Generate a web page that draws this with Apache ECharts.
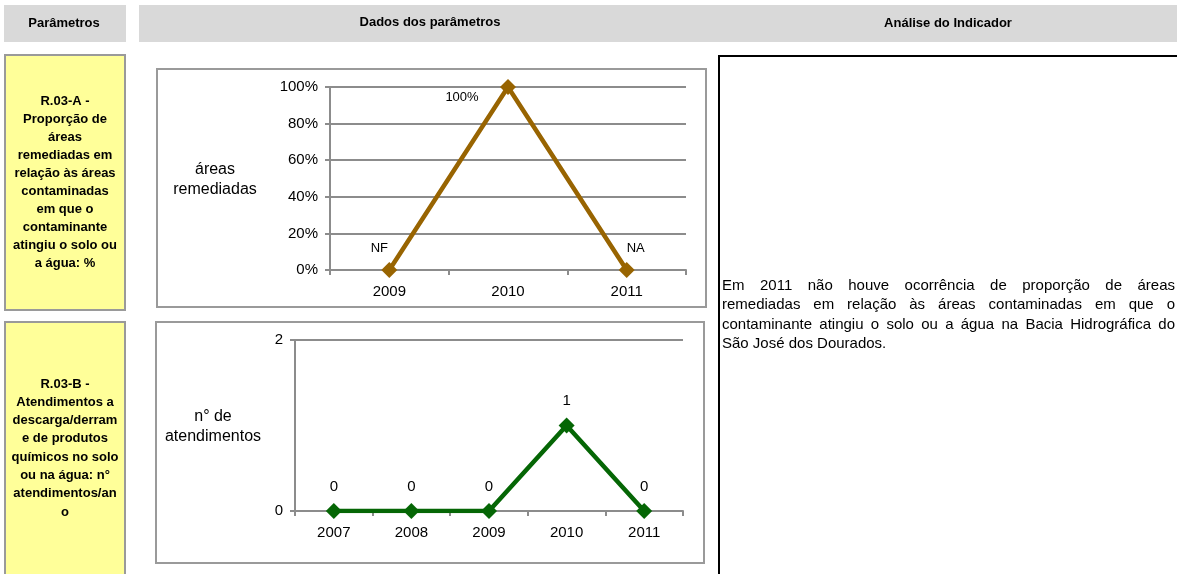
<!DOCTYPE html>
<html>
<head>
<meta charset="utf-8">
<script src="https://cdn.jsdelivr.net/npm/echarts@6/dist/echarts.min.js"></script>
<style>
  html, body { margin: 0; padding: 0; background: #fff; }
  #main { width: 1177px; height: 574px; }
</style>
</head>
<body>
<div id="main"></div>
<script>
// dados - R.03-A (proporção de áreas remediadas)
const yearsA = ['2009', '2010', '2011'];
const valuesA = [0, 1, 0];
const labelsA = ['NF', '100%', 'NA'];
const ticksA = ['0%', '20%', '40%', '60%', '80%', '100%'];

// dados - R.03-B (nº de atendimentos)
const yearsB = ['2007', '2008', '2009', '2010', '2011'];
const valuesB = [0, 0, 0, 1, 0];

const FONT = 'Arial, "Liberation Sans", sans-serif';
const GRID_COLOR = '#8c8c8c';

const linhasAnalise = [
  'Em 2011 não houve ocorrência de proporção de áreas',
  'remediadas em relação às áreas contaminadas em que o',
  'contaminante atingiu o solo ou a água na Bacia Hidrográfica do',
  'São José dos Dourados.',
];

const paramA = 'R.03-A -\nProporção de\náreas\nremediadas em\nrelação às áreas\ncontaminadas\nem que o\ncontaminante\natingiu o solo ou\na água: %';
const paramB = 'R.03-B -\nAtendimentos a\ndescarga/derram\ne de produtos\nquímicos no solo\nou na água: n°\natendimentos/an\no';

const myChart = echarts.init(document.getElementById('main'));

// texto justificado: mede as palavras e distribui o espaço
const ctx = document.createElement('canvas').getContext('2d');
function justify(lines, x0, x1, y0, lineH, font) {
  ctx.font = font;
  const out = [];
  lines.forEach((line, li) => {
    const words = line.split(' ');
    const widths = words.map(w => ctx.measureText(w).width);
    const total = widths.reduce((a, b) => a + b, 0);
    const last = li === lines.length - 1;
    const gap = last ? ctx.measureText(' ').width : (x1 - x0 - total) / (words.length - 1);
    let x = x0;
    words.forEach((w, i) => {
      out.push({
        type: 'text', x, y: y0 + li * lineH,
        style: { text: w, font, fill: '#000', textVerticalAlign: 'middle' },
      });
      x += widths[i] + gap;
    });
  });
  return out;
}

const box = (x, y, w, h, fill, stroke) => ({
  type: 'rect', shape: { x, y, width: w, height: h }, z: -1,
  style: { fill, stroke, lineWidth: stroke ? 2 : 0 },
});
const label = (x, y, text, font, extra) => ({
  type: 'text', x, y,
  style: Object.assign({ text, font, fill: '#000', textAlign: 'center', textVerticalAlign: 'middle' }, extra),
});

const axisLabelStyle = { color: '#000', fontSize: 15, fontFamily: FONT };
const lineAxis = { show: true, lineStyle: { color: GRID_COLOR, width: 2 } };
const tickAxis = { show: true, length: 5, lineStyle: { color: GRID_COLOR, width: 2 } };

const option = {
  animation: false,
  textStyle: { fontFamily: FONT },
  grid: [
    { left: 330, top: 87, width: 356, height: 183 },
    { left: 295, top: 340, width: 388, height: 171 },
  ],
  xAxis: [
    {
      gridIndex: 0, type: 'category', data: yearsA,
      axisLine: lineAxis, axisTick: tickAxis,
      axisLabel: Object.assign({ margin: 14 }, axisLabelStyle),
    },
    {
      gridIndex: 1, type: 'category', data: yearsB,
      axisLine: lineAxis, axisTick: tickAxis,
      axisLabel: Object.assign({ margin: 14 }, axisLabelStyle),
    },
  ],
  yAxis: [
    {
      gridIndex: 0, type: 'value', min: 0, max: 1, interval: 0.2,
      axisLine: lineAxis, axisTick: tickAxis,
      axisLabel: Object.assign({ margin: 12, formatter: (v) => ticksA[Math.round(v * 5)] }, axisLabelStyle),
      splitLine: { lineStyle: { color: GRID_COLOR, width: 2 } },
    },
    {
      gridIndex: 1, type: 'value', min: 0, max: 2, interval: 2,
      axisLine: lineAxis, axisTick: tickAxis,
      axisLabel: Object.assign({ margin: 12 }, axisLabelStyle),
      splitLine: { lineStyle: { color: GRID_COLOR, width: 2 } },
    },
  ],
  series: [
    {
      type: 'line', xAxisIndex: 0, yAxisIndex: 0,
      data: valuesA.map((v, i) => ({
        value: v,
        label: { offset: [[-10, -22], [-46, 10], [9, -22]][i] },
      })),
      symbol: 'diamond', symbolSize: 16,
      lineStyle: { color: '#986401', width: 4.5 },
      itemStyle: { color: '#986401' },
      label: {
        show: true, position: 'inside', color: '#000', fontSize: 13,
        formatter: (p) => labelsA[p.dataIndex],
      },
    },
    {
      type: 'line', xAxisIndex: 1, yAxisIndex: 1,
      data: valuesB,
      symbol: 'diamond', symbolSize: 16,
      lineStyle: { color: '#056605', width: 4.5 },
      itemStyle: { color: '#056605' },
      label: { show: true, position: 'top', distance: 9, color: '#000', fontSize: 15 },
    },
  ],
  graphic: [
    // cabeçalhos
    box(4, 5, 122, 37, '#d9d9d9'),
    box(139, 5, 1040, 37, '#d9d9d9'),
    label(64, 23, 'Parâmetros', 'bold 13px ' + FONT),
    label(430, 22, 'Dados dos parâmetros', 'bold 13px ' + FONT),
    label(948, 23, 'Análise do Indicador', 'bold 13px ' + FONT),
    // parâmetros
    box(5, 55, 120, 255, '#ffff99', '#9a9a9a'),
    box(5, 322, 120, 262, '#ffff99', '#9a9a9a'),
    label(65, 182, paramA, 'bold 13px ' + FONT, { lineHeight: 18 }),
    label(65, 448, paramB, 'bold 13px ' + FONT, { lineHeight: 18.3 }),
    // caixas dos gráficos
    box(157, 69, 549, 238, '#fff', '#9a9a9a'),
    box(156, 322, 548, 241, '#fff', '#9a9a9a'),
    label(215, 180, 'áreas\nremediadas', '16px ' + FONT, { lineHeight: 20 }),
    label(213, 427, 'n° de\natendimentos', '16px ' + FONT, { lineHeight: 20 }),
    // análise
    {
      type: 'rect', shape: { x: 719, y: 56, width: 500, height: 560 },
      style: { fill: 'none', stroke: '#000', lineWidth: 2 },
    },
  ].concat(justify(linhasAnalise, 722, 1175, 286, 19.3, '15px ' + FONT)),
};

myChart.setOption(option);
window.addEventListener('resize', () => myChart.resize());
</script>
</body>
</html>
